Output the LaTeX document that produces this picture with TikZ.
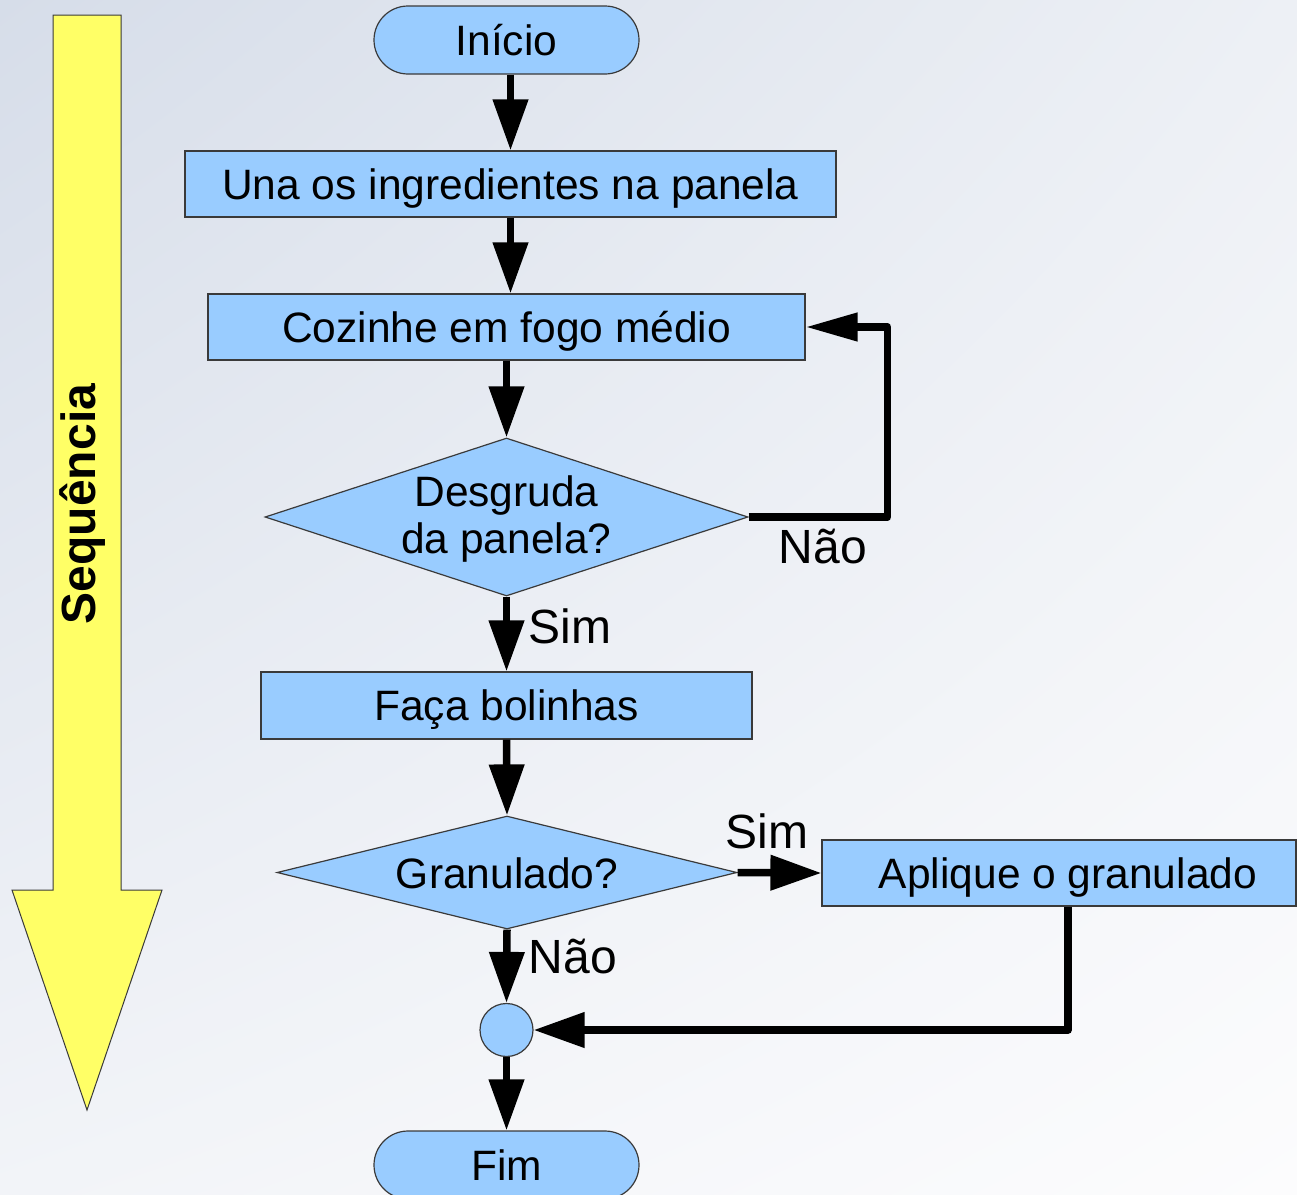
\documentclass[tikz,border=0pt]{standalone}
\usepackage{fontspec}
\setmainfont{Liberation Sans}
\usetikzlibrary{shapes.geometric,shapes.misc,arrows.meta,shadings}
\definecolor{boxblue}{HTML}{99CCFF}
\definecolor{edge}{HTML}{3A3A3A}
\definecolor{seqyellow}{HTML}{FFFF66}
\definecolor{bgUL}{HTML}{D6DDE9}
\definecolor{bgUR}{HTML}{EDF0F5}
\definecolor{bgLL}{HTML}{F2F4F8}
\definecolor{bgLR}{HTML}{FCFCFD}
\begin{document}
\begin{tikzpicture}[x=1pt,y=-1pt,
  every node/.style={font=\fontsize{42.5}{47}\selectfont, inner sep=0pt},
  capline/.style={text height=30.5pt, text depth=0pt},
  blk/.style={draw=edge, line width=1.2pt, fill=boxblue, rectangle, minimum height=66pt, capline},
  term/.style={draw=edge, line width=1.2pt, fill=boxblue, rounded rectangle,
               minimum width=265pt, minimum height=68pt, capline},
  dec/.style={draw=edge, line width=1.2pt, fill=boxblue, diamond},
  flow/.style={line width=7.5pt, line join=round, -{Triangle[width=34pt,length=51pt]}},
  loopflow/.style={line width=7.5pt, line join=round, -{Triangle[width=27pt,length=52pt]}},
  lbl/.style={anchor=base, font=\fontsize{48}{52}\selectfont}]

% canvas and background
\useasboundingbox (0,0) rectangle (1297,1194);
\clip (0,0) rectangle (1297,1194);
\shade[upper left=bgUL, upper right=bgUR, lower left=bgLL, lower right=bgLR]
  (0,0) rectangle (1297,1194);

% sequence arrow on the left
\filldraw[fill=seqyellow, draw=edge, line width=1pt]
  (53,15) -- (121,15) -- (121,890) -- (162,890) -- (87,1110) -- (12,890) -- (53,890) -- cycle;
\node[rotate=90, font=\fontsize{48}{52}\selectfont\bfseries] (seq) at (83,504) {Sequência};

% flowchart nodes
\node[term] (start) at (506.5,40) {Início};
\node[blk, minimum width=651pt] (b1) at (510.5,184) {Una os ingredientes na panela};
\node[blk, minimum width=597pt] (b2) at (506.5,327) {Cozinhe em fogo médio};
\node[dec, minimum width=483pt, minimum height=158pt] (d1) at (506.5,517) {};
\node[align=center] (d1t) at (506.5,519) {Desgruda\\da panela?};
\node[blk, minimum width=491pt, minimum height=67pt] (b3) at (506.5,705.5) {Faça bolinhas};
\node[dec, minimum width=460pt, minimum height=113pt] (d2) at (507,872.5) {};
\node[capline] (d2t) at (507,873) {Granulado?};
\node[blk, minimum width=474pt] (b4) at (1059,873) {};
\node[capline] (b4t) at (1068,873) {Aplique o granulado};
\node[circle, draw=edge, line width=1.2pt, fill=boxblue, minimum size=53pt] (join) at (506.5,1030) {};
\node[term] (fim) at (506.5,1165) {Fim};

% connectors
\draw[flow] (b1.north |- start.south) -- (b1.north);
\draw[flow] (b1.south) -- (b1.south |- b2.north);
\draw[flow] (b2.south) -- (d1.north);
\draw[flow] (d1.south) -- (b3.north);
\draw[flow] (b3.south) -- (d2.north);
\draw[flow] (d2.south) -- (join.north);
\draw[flow] (join.south) -- (fim.north);
\draw[loopflow] (d1.east) -- ++(139,0) |- (b2.east);
\draw[flow] (d2.east) -- (b4.west);
\draw[flow] (b4t |- b4.south) |- (join.east);

% branch labels
\node[lbl] (nao1) at (823,563) {Não};
\node[lbl] (sim1) at (570,643) {Sim};
\node[lbl] (sim2) at (767,848) {Sim};
\node[lbl] (nao2) at (573,973) {Não};
\end{tikzpicture}
\end{document}
